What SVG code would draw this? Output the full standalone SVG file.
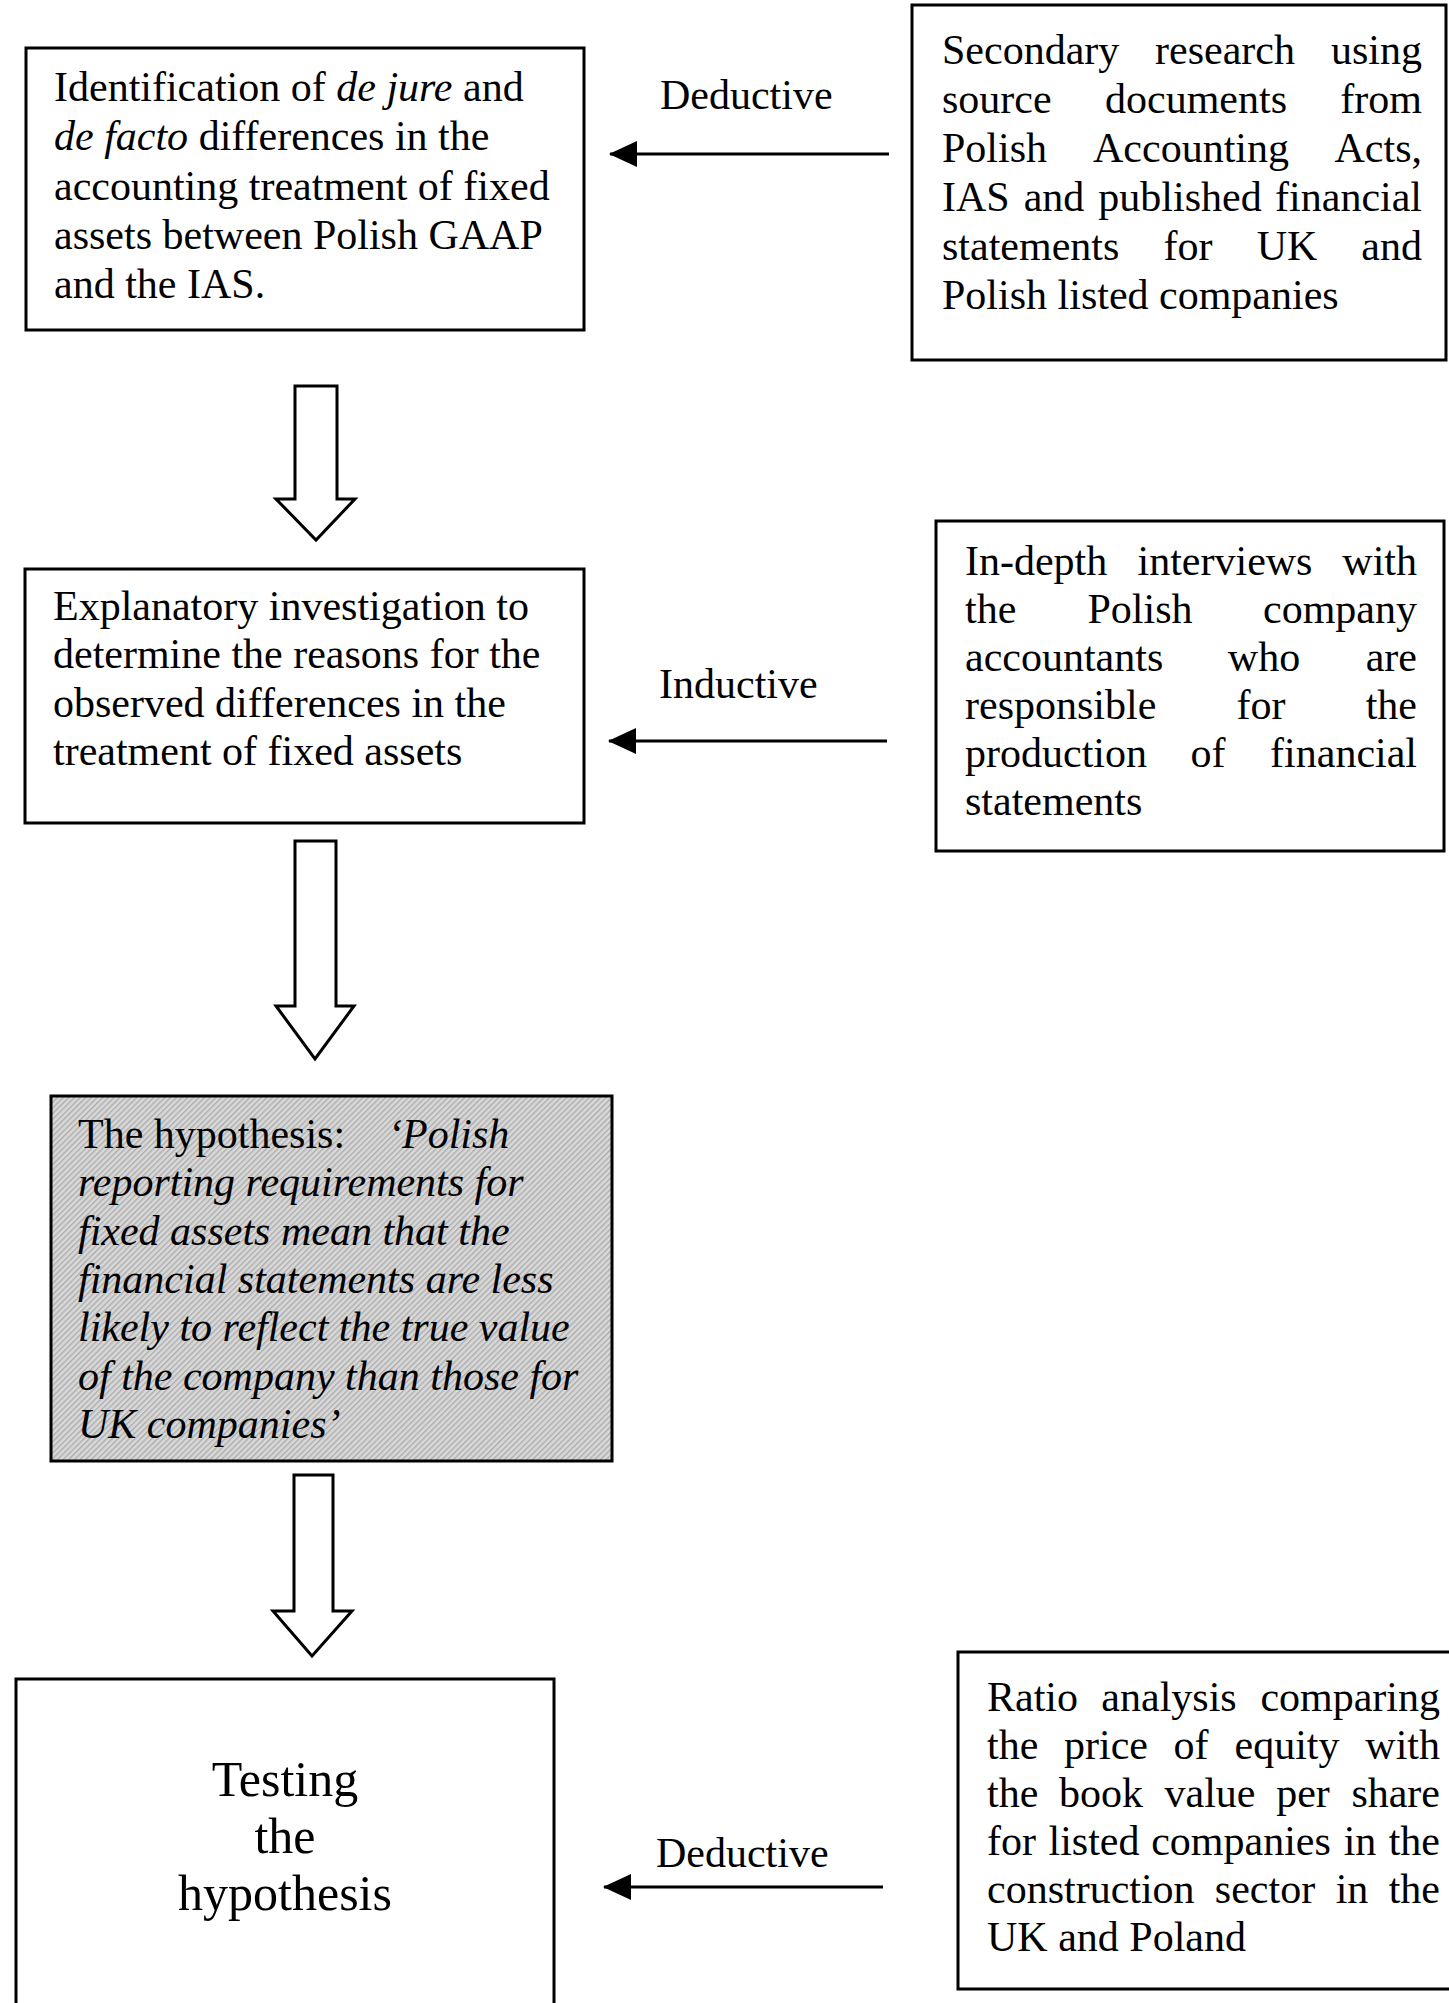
<svg xmlns="http://www.w3.org/2000/svg" width="1449" height="2003" viewBox="0 0 1449 2003">
<style>
  text { font-family: "Liberation Serif", "Times New Roman", serif; font-size: 42px; fill: #000; }
  .it { font-style: italic; }
  .box { fill: #fff; stroke: #000; stroke-width: 3; }
  .hyp { fill: url(#hatch); stroke: #000; stroke-width: 3; }
  .block { fill: #fff; stroke: #000; stroke-width: 3; stroke-linejoin: miter; }
  .conn { stroke: #000; stroke-width: 3; fill: none; }
  .m { text-anchor: middle; }
  .e { text-anchor: end; }
  .big { font-size: 50px; }
</style>
<defs>
  <pattern id="hatch" patternUnits="userSpaceOnUse" width="4" height="4" patternTransform="rotate(-45)">
    <rect width="4" height="4" fill="#d8d8d8"/>
    <rect width="4" height="1.3" fill="#ababab"/>
  </pattern>
  <marker id="ah" markerUnits="userSpaceOnUse" viewBox="0 0 28 26" markerWidth="28" markerHeight="26" refX="27" refY="13" orient="auto">
    <path d="M0,0 L28,13 L0,26 z" fill="#000"/>
  </marker>
</defs>
<rect width="1449" height="2003" fill="#fff"/>

<g id="connectors">
  <polygon class="block" points="295,386 337,386 337,499 355,499 316,540 276,499 295,499"/>
  <polygon class="block" points="295,841 336,841 336,1006 354,1006 315,1059 276,1006 295,1006"/>
  <polygon class="block" points="294,1475 333,1475 333,1611 352,1611 312,1656 273,1611 294,1611"/>
  <line class="conn" x1="889" y1="154" x2="610" y2="154" marker-end="url(#ah)"/>
  <line class="conn" x1="887" y1="741" x2="609" y2="741" marker-end="url(#ah)"/>
  <line class="conn" x1="883" y1="1887" x2="604" y2="1887" marker-end="url(#ah)"/>
  <text x="660" y="109">Deductive</text>
  <text x="659" y="698">Inductive</text>
  <text x="656" y="1867">Deductive</text>
</g>

<g id="node-identification">
  <rect class="box" x="26" y="48" width="558" height="282"/>
  <text x="54" y="101">Identification of <tspan class="it">de jure</tspan> and</text>
  <text x="54" y="150"><tspan class="it">de facto</tspan> differences in the</text>
  <text x="54" y="200">accounting treatment of fixed</text>
  <text x="54" y="249">assets between Polish GAAP</text>
  <text x="54" y="298">and the IAS.</text>
</g>

<g id="node-secondary">
  <rect class="box" x="912" y="5" width="534" height="355"/>
  <text y="64"><tspan x="942">Secondary</tspan><tspan class="m" x="1225">research</tspan><tspan class="e" x="1422">using</tspan></text>
  <text y="113"><tspan x="942">source</tspan><tspan class="m" x="1196">documents</tspan><tspan class="e" x="1422">from</tspan></text>
  <text y="162"><tspan x="942">Polish</tspan><tspan class="m" x="1191">Accounting</tspan><tspan class="e" x="1422">Acts,</tspan></text>
  <text y="211"><tspan x="942">IAS</tspan><tspan class="m" x="1054">and</tspan><tspan class="m" x="1180">published</tspan><tspan class="e" x="1422">financial</tspan></text>
  <text y="260"><tspan x="942">statements</tspan><tspan class="m" x="1188">for</tspan><tspan class="m" x="1287">UK</tspan><tspan class="e" x="1422">and</tspan></text>
  <text x="942" y="309">Polish listed companies</text>
</g>

<g id="node-explanatory">
  <rect class="box" x="25" y="569" width="559" height="254"/>
  <text x="53" y="620">Explanatory investigation to</text>
  <text x="53" y="668">determine the reasons for the</text>
  <text x="53" y="717">observed differences in the</text>
  <text x="53" y="765">treatment of fixed assets</text>
</g>

<g id="node-interviews">
  <rect class="box" x="936" y="521" width="508" height="330"/>
  <text y="575"><tspan x="965">In-depth</tspan><tspan class="m" x="1225">interviews</tspan><tspan class="e" x="1417">with</tspan></text>
  <text y="623"><tspan x="965">the</tspan><tspan class="m" x="1140">Polish</tspan><tspan class="e" x="1417">company</tspan></text>
  <text y="671"><tspan x="965">accountants</tspan><tspan class="m" x="1264">who</tspan><tspan class="e" x="1417">are</tspan></text>
  <text y="719"><tspan x="965">responsible</tspan><tspan class="m" x="1261">for</tspan><tspan class="e" x="1417">the</tspan></text>
  <text y="767"><tspan x="965">production</tspan><tspan class="m" x="1208">of</tspan><tspan class="e" x="1417">financial</tspan></text>
  <text x="965" y="815">statements</text>
</g>

<g id="node-hypothesis">
  <rect class="hyp" x="51" y="1096" width="561" height="365"/>
  <text y="1148"><tspan x="78">The hypothesis:</tspan><tspan class="it" x="388">‘Polish</tspan></text>
  <text class="it" x="78" y="1196">reporting requirements for</text>
  <text class="it" x="78" y="1245">fixed assets mean that the</text>
  <text class="it" x="78" y="1293">financial statements are less</text>
  <text class="it" x="78" y="1341">likely to reflect the true value</text>
  <text class="it" x="78" y="1390">of the company than those for</text>
  <text class="it" x="78" y="1438">UK companies’</text>
</g>

<g id="node-testing">
  <rect class="box" x="16" y="1679" width="538" height="340"/>
  <text class="big m" x="285" y="1796">Testing</text>
  <text class="big m" x="285" y="1853">the</text>
  <text class="big m" x="285" y="1910">hypothesis</text>
</g>

<g id="node-ratio">
  <rect class="box" x="958" y="1652" width="500" height="337"/>
  <text y="1711"><tspan x="987">Ratio</tspan><tspan class="m" x="1169">analysis</tspan><tspan class="e" x="1440">comparing</tspan></text>
  <text y="1759"><tspan x="987">the</tspan><tspan class="m" x="1106">price</tspan><tspan class="m" x="1191">of</tspan><tspan class="m" x="1287">equity</tspan><tspan class="e" x="1440">with</tspan></text>
  <text y="1807"><tspan x="987">the</tspan><tspan class="m" x="1101">book</tspan><tspan class="m" x="1210">value</tspan><tspan class="m" x="1303">per</tspan><tspan class="e" x="1440">share</tspan></text>
  <text y="1855"><tspan x="987">for</tspan><tspan class="m" x="1094">listed</tspan><tspan class="m" x="1241">companies</tspan><tspan class="m" x="1360">in</tspan><tspan class="e" x="1440">the</tspan></text>
  <text y="1903"><tspan x="987">construction</tspan><tspan class="m" x="1265">sector</tspan><tspan class="m" x="1352">in</tspan><tspan class="e" x="1440">the</tspan></text>
  <text x="987" y="1951">UK and Poland</text>
</g>
</svg>
